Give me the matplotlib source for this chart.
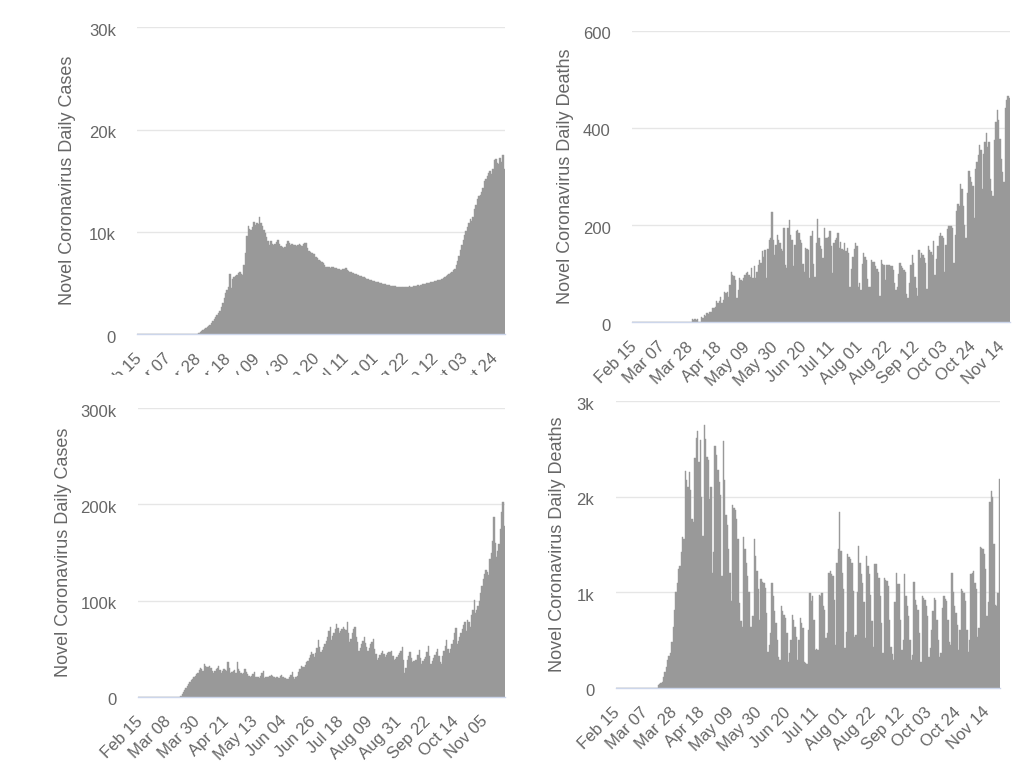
import matplotlib
matplotlib.use("Agg")
import matplotlib.pyplot as plt
from matplotlib.transforms import ScaledTranslation, Bbox

plt.rcParams['font.family'] = ['Liberation Sans', 'DejaVu Sans']

# ---------------- data (daily values starting Feb 15) ----------------
cases_a = [
    0, 0, 0, 0, 0, 0, 0, 0, 0, 0, 0, 0, 0, 0, 0, 0, 0, 0, 0, 0,
    0, 0, 0, 0, 0, 0, 0, 0, 0, 0, 0, 0, 0, 0, 0, 0, 0, 0, 0, 0,
    0, 0, 0,
    100, 200, 300, 400, 500, 600, 700, 800, 900, 1100,
    1300, 1500, 1700, 1900, 2100, 2300, 2700, 3100, 3500, 4000,
    4300, 4600, 5900, 4500, 5400, 5600, 5700, 5800, 6000, 6100,
    5900, 5800, 6800, 7900, 9600, 10600, 10300, 10200, 10500, 11000,
    10700, 10900, 10800, 11500, 10900, 10600, 10200, 9900, 9500, 9100,
    8700, 9100, 8800, 8700, 8800, 9000, 9200, 8800, 8600, 8500,
    8400, 8500, 8800, 9100, 8900, 8700, 8800, 8700, 8700, 8600,
    8700, 8800, 8700, 8600, 8800, 8900, 8900, 8400, 8100, 8000,
    7900, 7800, 7800, 7600, 7500, 7300, 7200, 7100, 7000, 6800,
    6600, 6600, 6600, 6500, 6600, 6600, 6500, 6500, 6400, 6400,
    6300, 6300, 6400, 6400, 6500, 6300, 6200, 6100, 6100, 6000,
    5900, 5900, 5800, 5800, 5700, 5700, 5600, 5600, 5500, 5400,
    5400, 5300, 5300, 5200, 5200, 5100, 5100, 5100, 5000, 5000,
    4900, 4900, 4900, 4800, 4800, 4800, 4700, 4700, 4700, 4700,
    4600, 4600, 4600, 4600, 4600, 4600, 4600, 4600, 4600, 4700,
    4600, 4600, 4700, 4700, 4700, 4800, 4700, 4800, 4900, 4900,
    4900, 5000, 5000, 5000, 5100, 5100, 5100, 5200, 5200, 5300,
    5300, 5300, 5400, 5500, 5600, 5700, 5800, 5900, 6000, 6100,
    6300, 6400, 6800, 7200, 7700, 8200, 8700, 9200, 9700, 10100,
    10500, 10900, 11300, 11100, 11500, 12200, 12600, 13200, 13500, 13600,
    13900, 14300, 15000, 15200, 15500, 15800, 16000, 15700, 16200, 17000,
    17100, 16700, 16600, 17200, 16800, 17500, 16200,
]

deaths_b = [
    0, 0, 0, 0, 0, 0, 0, 0, 0, 0, 0, 0, 0, 0, 0, 0, 0, 0, 0, 0,
    0, 0, 0, 0, 0, 0, 0, 0, 0, 0, 0, 0, 0, 0, 0, 0, 0, 0, 0, 0,
    0, 0, 0, 0,
    6, 5, 7, 4, 6, 0, 0, 10, 8, 15,
    12, 19, 17, 22, 22, 29, 30, 32, 43, 39,
    43, 53, 40, 46, 63, 60, 63, 53, 77, 104,
    98, 95, 87, 49, 67, 91, 88, 84, 91, 98,
    101, 104, 98, 94, 111, 91, 115, 91, 104, 118,
    128, 122, 146, 135, 149, 91, 150, 170, 173, 227,
    170, 139, 160, 180, 170, 163, 150, 146, 194, 118,
    111, 195, 211, 180, 170, 115, 160, 187, 190, 183,
    170, 163, 120, 104, 152, 150, 149, 91, 177, 187,
    120, 94, 163, 213, 173, 156, 150, 132, 194, 173,
    173, 176, 187, 156, 101, 163, 170, 173, 183, 152,
    166, 150, 149, 163, 146, 153, 142, 73, 110, 135,
    150, 163, 156, 73, 80, 66, 120, 142, 135, 128,
    90, 73, 73, 128, 125, 125, 115, 110, 104, 55,
    128, 120, 118, 87, 118, 118, 118, 115, 115, 108,
    80, 66, 73, 100, 121, 115, 111, 108, 104, 59,
    49, 80, 118, 139, 121, 94, 70, 55, 149, 132,
    142, 138, 132, 121, 69, 156, 149, 145, 139, 167,
    97, 130, 156, 177, 184, 178, 173, 104, 160, 191,
    199, 199, 198, 194, 121, 180, 230, 243, 239, 285,
    274, 240, 201, 173, 267, 312, 300, 288, 281, 215,
    316, 330, 344, 364, 354, 274, 347, 370, 389, 361,
    371, 295, 270, 260, 375, 413, 437, 416, 378, 337,
    310, 288, 440, 458, 465, 462,
]

cases_c = [
    0, 0, 0, 0, 0, 0, 0, 0, 0, 0, 0, 0, 0, 0, 0, 0, 0, 0, 0, 0,
    0, 0, 0, 0, 0, 0, 0, 0, 0, 0, 0, 0,
    1000, 2500, 4500, 6500, 9000, 11000, 13000, 15000, 17000, 18500,
    20000, 21500, 24000, 25000, 28000, 30000, 29000, 27000, 34000, 32000,
    30500, 31000, 32000, 30000, 27000, 25000, 27000, 29000, 30000, 32000,
    28000, 25000, 27000, 29000, 28000, 27000, 36000, 30000, 25000, 26000,
    27000, 28000, 25000, 36000, 29000, 27000, 25000, 23500, 25000, 29000,
    26000, 23500, 22000, 20000, 22000, 24000, 26000, 20000, 21000, 20000,
    19400, 22000, 25000, 27000, 19400, 20000, 21000, 20000, 21500, 23000,
    22000, 20000, 19400, 20000, 21000, 19400, 21500, 23000, 21000, 19400,
    19000, 18500, 18300, 20000, 23000, 26000, 21000, 18300, 20000, 22000,
    26000, 29000, 32000, 31000, 30600, 33000, 36000, 37600, 40000, 43000,
    46000, 44000, 41000, 45000, 51000, 59000, 52000, 46000, 49000, 52000,
    55000, 58000, 62000, 68000, 73000, 59000, 63000, 66000, 70000, 76000,
    71000, 66000, 68000, 70000, 73000, 70000, 69000, 78000, 66000, 57000,
    60000, 66000, 70000, 73000, 62000, 57000, 48000, 51000, 55000, 58000,
    62000, 56000, 52000, 48000, 51000, 55000, 57000, 60000, 50000, 44000,
    38000, 40000, 43000, 45000, 48000, 44000, 41000, 43000, 45000, 46000,
    47000, 48000, 42000, 38000, 39000, 41000, 43000, 45000, 48000, 52000,
    38000, 25000, 30000, 38000, 42000, 46000, 40000, 36000, 37000, 38000,
    38000, 43000, 49000, 40000, 34000, 37000, 39000, 41000, 46000, 53000,
    42000, 34000, 37000, 40000, 43000, 46000, 50000, 42000, 36000, 34000,
    42000, 48000, 53000, 59000, 50000, 45000, 50000, 55000, 59000, 66000,
    71000, 55000, 58000, 62000, 66000, 70000, 75000, 78000, 68000, 80000,
    78000, 73000, 85000, 90000, 101000, 87000, 90000, 94000, 100000, 108000,
    115000, 122000, 128000, 132000, 130000, 127000, 143000, 150000, 162000, 187000,
    160000, 145000, 152000, 159000, 174000, 192000, 203000, 178000,
]

deaths_d = [
    0, 0, 0, 0, 0, 0, 0, 0, 0, 0, 0, 0, 0, 0, 0, 0, 0, 0, 0, 0,
    0, 0, 0, 0, 0, 0, 0, 0, 0, 0, 0,
    25, 40, 50, 60, 113, 160, 218, 289, 330,
    359, 482, 640, 817, 1000, 1098, 1239, 1274, 1420, 1573,
    1556, 2267, 2172, 2100, 2260, 2066, 1767, 1732, 2400, 2612,
    2682, 2365, 2594, 1996, 1591, 2746, 2600, 2418, 2383, 1978,
    2101, 1200, 1415, 2524, 2436, 2277, 2150, 2013, 1169, 2577,
    2172, 1802, 1700, 1450, 1204, 905, 1908, 1880, 1855, 1767,
    1556, 887, 700, 640, 1573, 1450, 1309, 1169, 1000, 640,
    640, 746, 1556, 1380, 1221, 1028, 711, 1133, 1110, 1098,
    1045, 781, 377, 450, 570, 1098, 957, 799, 676, 500,
    324, 289, 852, 799, 760, 729, 570, 271, 359, 500,
    764, 711, 640, 535, 289, 500, 729, 676, 623, 271,
    260, 253, 600, 993, 905, 957, 711, 394, 400, 394,
    975, 960, 993, 852, 817, 517, 570, 1204, 1221, 1190,
    1169, 922, 447, 1309, 1450, 1837, 1432, 1200, 1028, 412,
    588, 1397, 1370, 1344, 1309, 1010, 535, 553, 1000, 1485,
    1309, 1186, 1098, 900, 517, 1380, 1274, 1186, 975, 700,
    429, 1292, 1292, 1200, 1151, 957, 676, 359, 1151, 1130,
    1116, 1063, 711, 429, 350, 289, 900, 1204, 1081, 1081,
    711, 394, 500, 1186, 957, 852, 746, 500, 289, 341,
    1109, 922, 870, 817, 570, 271, 957, 940, 922, 852,
    746, 324, 412, 600, 799, 940, 922, 711, 500, 324,
    359, 834, 957, 930, 905, 711, 482, 447, 1204, 1000,
    852, 781, 658, 394, 600, 1028, 1010, 993, 905, 600,
    377, 500, 1186, 1204, 1221, 1100, 1028, 535, 623, 1468,
    1460, 1450, 1397, 1239, 746, 900, 1943, 2056, 1996, 1503,
    870, 852, 993, 2179,
]

ticks_21 = ["Feb 15", "Mar 07", "Mar 28", "Apr 18", "May 09", "May 30", "Jun 20",
            "Jul 11", "Aug 01", "Aug 22", "Sep 12", "Oct 03", "Oct 24", "Nov 14"]
ticks_22 = ["Feb 15", "Mar 08", "Mar 30", "Apr 21", "May 13", "Jun 04", "Jun 26",
            "Jul 18", "Aug 09", "Aug 31", "Sep 22", "Oct 14", "Nov 05"]

yt_a = [0, 10000, 20000, 30000]; yl_a = ["0", "10k", "20k", "30k"]
yt_b = [0, 200, 400, 600];       yl_b = ["0", "200", "400", "600"]
yt_c = [0, 100000, 200000, 300000]; yl_c = ["0", "100k", "200k", "300k"]
yt_d = [0, 1000, 2000, 3000];    yl_d = ["0", "1k", "2k", "3k"]

title_cases = "Novel Coronavirus Daily Cases"
title_deaths = "Novel Coronavirus Daily Deaths"

# ---------------- layout ----------------
W, H = 1024, 768
fig = plt.figure(figsize=(W / 100, H / 100), dpi=100)
fig.patch.set_facecolor("white")

BAR = "#999999"
TXT = "#666666"
GRID = "#e6e6e6"
BASE = "#ccd6eb"


def px_rect(left, top, right, bottom):
    return [left / W, 1 - bottom / H, (right - left) / W, (bottom - top) / H]


panels = [
    dict(vals=cases_a, rect=px_rect(137.3, 27.3, 505, 334.3), yt=yt_a, yl=yl_a,
         ticks=ticks_21[:13], step=21, title=title_cases, lab=(67, 180.7), clip=True),
    dict(vals=deaths_b, rect=px_rect(632.3, 30.7, 1010, 322.3), yt=yt_b, yl=yl_b,
         ticks=ticks_21, step=21, title=title_deaths, lab=(565, 176.5), clip=False),
    dict(vals=cases_c, rect=px_rect(138.3, 408.3, 505, 696.7), yt=yt_c, yl=yl_c,
         ticks=ticks_22, step=22, title=title_cases, lab=(63, 552.5), clip=False),
    dict(vals=deaths_d, rect=px_rect(615.7, 401, 1000, 687.7), yt=yt_d, yl=yl_d,
         ticks=ticks_21, step=21, title=title_deaths, lab=(558, 544), clip=False),
]

for p in panels:
    ax = fig.add_axes(p["rect"])
    n = len(p["vals"])
    ax.bar(range(n), p["vals"], width=1.0, color=BAR, edgecolor=BAR,
           linewidth=0.3, zorder=2)
    ax.set_xlim(-0.5, n - 0.5)
    ax.set_ylim(0, p["yt"][-1])
    ax.set_axisbelow(True)
    ax.grid(axis="y", color=GRID, linewidth=1)
    for s in ("top", "right", "left"):
        ax.spines[s].set_visible(False)
    ax.spines["bottom"].set_color(BASE)
    ax.spines["bottom"].set_linewidth(1)
    ax.spines["bottom"].set_zorder(3)

    ax.set_yticks(p["yt"])
    ax.set_yticklabels(p["yl"])
    ax.tick_params(axis="y", length=0, pad=15.5, labelsize=12, labelcolor=TXT)
    off_y = ScaledTranslation(0, -2.5 / 100, fig.dpi_scale_trans)
    for t in ax.get_yticklabels():
        t.set_transform(t.get_transform() + off_y)

    pos = [i * p["step"] for i in range(len(p["ticks"]))]
    ax.set_xticks(pos)
    ax.set_xticklabels(p["ticks"], rotation=45, ha="right", va="center",
                       rotation_mode="anchor")
    ax.tick_params(axis="x", length=0, pad=16, labelsize=12, labelcolor=TXT)
    off_x = ScaledTranslation(1 / 100, 0, fig.dpi_scale_trans)
    for t in ax.get_xticklabels():
        t.set_transform(t.get_transform() + off_x)
        if p["clip"]:
            t.set_clip_box(Bbox.from_extents(0, H - 375, 515, H))
            t.set_clip_on(True)

    fig.text(p["lab"][0] / W, 1 - p["lab"][1] / H, p["title"], rotation=90,
             ha="center", va="center", fontsize=13, color=TXT)

fig.savefig("out.png", dpi=100, facecolor="white")
